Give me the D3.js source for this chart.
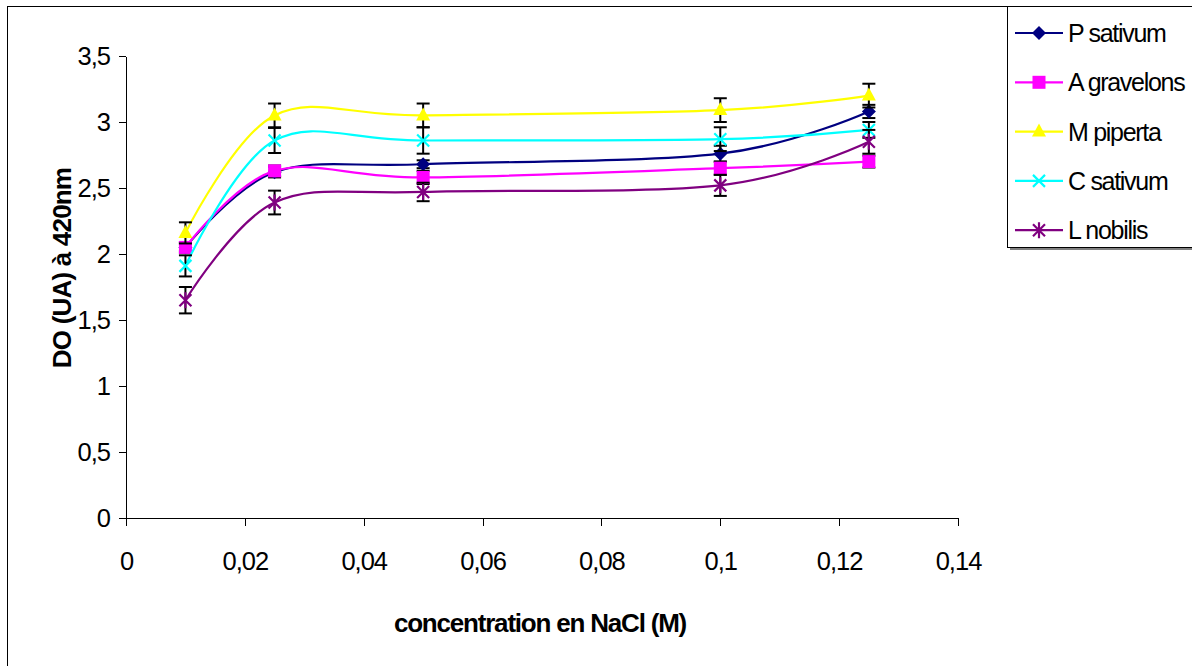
<!DOCTYPE html>
<html>

<head>
    <meta charset="utf-8">
    <title>DO vs NaCl</title>
    <style type="text/css">
    body {
        margin: 0;
        background: #fff;
    }
    svg text {
        font-family: "Liberation Sans", Arial, sans-serif;
        fill: #000;
    }
    .axis path,
    .axis line {
        stroke: #000;
        stroke-width: 1px;
        shape-rendering: crispEdges;
    }
    </style>
</head>

<body>
    <script src="https://cdn.jsdelivr.net/npm/d3@7"></script>
    <script>
    // NaCl concentrations (M)
    var conc = [0.01, 0.025, 0.05, 0.1, 0.125];

    var names = ["P sativum", "A gravelons", "M piperta", "C sativum", "L nobilis"];
    var colors = ["#000080", "#ff00ff", "#ffff00", "#00ffff", "#800080"];
    var shapes = ["diamond", "square", "triangle", "cross", "star"];

    // DO at 420 nm, one array per extract
    var pSativum = [2.05, 2.62, 2.68, 2.76, 3.08];
    var aGravelons = [2.05, 2.63, 2.58, 2.65, 2.70];
    var mPiperta = [2.16, 3.05, 3.05, 3.09, 3.20];
    var cSativum = [1.91, 2.86, 2.86, 2.87, 2.94];
    var lNobilis = [1.65, 2.39, 2.47, 2.52, 2.85];

    // standard deviations
    var errPSativum = [0.03, 0.04, 0.03, 0.06, 0.05];
    var errAGravelons = [0.04, 0.04, 0.05, 0.05, 0.045];
    var errMPiperta = [0.08, 0.09, 0.09, 0.09, 0.09];
    var errCSativum = [0.08, 0.095, 0.1, 0.09, 0.06];
    var errLNobilis = [0.1, 0.09, 0.07, 0.08, 0.09];

    var xTicks = [0, 0.02, 0.04, 0.06, 0.08, 0.1, 0.12, 0.14];
    var yTicks = [0, 0.5, 1, 1.5, 2, 2.5, 3, 3.5];

    var values = [pSativum, aGravelons, mPiperta, cSativum, lNobilis];
    var errors = [errPSativum, errAGravelons, errMPiperta, errCSativum, errLNobilis];

    var series = names.map(function(n, i) {
        return {
            name: n,
            color: colors[i],
            shape: shapes[i],
            points: conc.map(function(c, j) {
                return { x: c, y: values[i][j], e: errors[i][j] };
            })
        };
    });

    var width = 1192,
        height = 666;

    var xscl = d3.scaleLinear().domain([0, 0.14]).range([126, 958]);
    var yscl = d3.scaleLinear().domain([0, 3.5]).range([518, 56]);

    function comma(d) {
        return String(+d.toFixed(2)).replace(".", ",");
    }

    var svg = d3.select("body")
        .append("svg")
        .attr("width", width)
        .attr("height", height);

    // outer chart frame (runs off the right and bottom)
    svg.append("rect")
        .attr("x", 7.5)
        .attr("y", 6.5)
        .attr("width", 1300)
        .attr("height", 800)
        .style("fill", "#fff")
        .style("stroke", "#000")
        .style("stroke-width", 1);

    var xAxis = d3.axisBottom(xscl)
        .tickValues(xTicks)
        .tickFormat(comma)
        .tickSizeInner(8)
        .tickSizeOuter(0)
        .tickPadding(26);

    var yAxis = d3.axisLeft(yscl)
        .tickValues(yTicks)
        .tickFormat(comma)
        .tickSizeInner(7)
        .tickSizeOuter(0)
        .tickPadding(9);

    svg.append("g")
        .attr("class", "axis")
        .attr("transform", "translate(0," + yscl(0) + ")")
        .call(xAxis)
        .selectAll("text")
        .style("font-size", "25.5px")
        .style("letter-spacing", "-1px");

    svg.append("g")
        .attr("class", "axis")
        .attr("transform", "translate(" + xscl(0) + ",0)")
        .call(yAxis)
        .selectAll("text")
        .style("font-size", "25.5px")
        .style("letter-spacing", "-1px");

    svg.selectAll(".axis text").attr("fill", "#000");

    // axis titles
    svg.append("text")
        .attr("x", 540)
        .attr("y", 632)
        .attr("text-anchor", "middle")
        .style("font-size", "26px")
        .style("font-weight", "bold")
        .style("letter-spacing", "-1.2px")
        .text("concentration en NaCl (M)");

    svg.append("text")
        .attr("transform", "translate(71,268) rotate(-90)")
        .attr("text-anchor", "middle")
        .style("font-size", "26px")
        .style("font-weight", "bold")
        .style("letter-spacing", "-0.8px")
        .text("DO (UA) à 420nm");

    // marker drawing
    function drawMarker(g, shape, color) {
        if (shape === "diamond") {
            g.append("path").attr("d", "M0,-7L7,0L0,7L-7,0Z").style("fill", color);
        } else if (shape === "square") {
            g.append("rect").attr("x", -6.5).attr("y", -6.5).attr("width", 13).attr("height", 13).style("fill", color);
        } else if (shape === "triangle") {
            g.append("path").attr("d", "M0,-8L7,5L-7,5Z").style("fill", color);
        } else if (shape === "cross") {
            g.append("path").attr("d", "M-6,-6L6,6M-6,6L6,-6")
                .style("stroke", color).style("stroke-width", 2.2).style("fill", "none");
        } else if (shape === "star") {
            g.append("path").attr("d", "M-6,-6L6,6M-6,6L6,-6M0,-8L0,8")
                .style("stroke", color).style("stroke-width", 2.2).style("fill", "none");
        }
    }

    var myline = d3.line()
        .x(function(d) { return xscl(d.x); })
        .y(function(d) { return yscl(d.y); })
        .curve(d3.curveCardinal.tension(0));

    series.forEach(function(s) {
        var g = svg.append("g");

        g.append("path")
            .attr("d", myline(s.points))
            .style("fill", "none")
            .style("stroke", s.color)
            .style("stroke-width", 2.2);

        // error bars
        var eb = g.selectAll(".err")
            .data(s.points)
            .enter()
            .append("g")
            .style("stroke", "#000")
            .style("stroke-width", 2);

        eb.append("line")
            .attr("x1", function(d) { return xscl(d.x); })
            .attr("x2", function(d) { return xscl(d.x); })
            .attr("y1", function(d) { return yscl(d.y + d.e); })
            .attr("y2", function(d) { return yscl(d.y - d.e); });
        eb.append("line")
            .attr("x1", function(d) { return xscl(d.x) - 6.5; })
            .attr("x2", function(d) { return xscl(d.x) + 6.5; })
            .attr("y1", function(d) { return yscl(d.y + d.e); })
            .attr("y2", function(d) { return yscl(d.y + d.e); });
        eb.append("line")
            .attr("x1", function(d) { return xscl(d.x) - 6.5; })
            .attr("x2", function(d) { return xscl(d.x) + 6.5; })
            .attr("y1", function(d) { return yscl(d.y - d.e); })
            .attr("y2", function(d) { return yscl(d.y - d.e); });

        s.points.forEach(function(d) {
            var m = g.append("g")
                .attr("transform", "translate(" + xscl(d.x) + "," + yscl(d.y) + ")");
            drawMarker(m, s.shape, s.color);
        });
    });

    // legend
    var legend = svg.append("g");

    legend.append("rect")
        .attr("x", 1010)
        .attr("y", 9)
        .attr("width", 300)
        .attr("height", 241)
        .style("fill", "#808080");

    legend.append("rect")
        .attr("x", 1007.5)
        .attr("y", 6.5)
        .attr("width", 300)
        .attr("height", 241)
        .style("fill", "#fff")
        .style("stroke", "#000")
        .style("stroke-width", 1);

    series.forEach(function(s, i) {
        var ly = 33 + i * 49.3;
        var item = legend.append("g").attr("transform", "translate(0," + ly + ")");
        item.append("line")
            .attr("x1", 1015)
            .attr("x2", 1063)
            .style("stroke", s.color)
            .style("stroke-width", 2.2);
        drawMarker(item.append("g").attr("transform", "translate(1039,0)"), s.shape, s.color);
        item.append("text")
            .attr("x", 1068)
            .attr("dy", "0.36em")
            .style("font-size", "25px")
            .style("letter-spacing", "-1.3px")
            .text(s.name);
    });
    </script>
</body>

</html>
